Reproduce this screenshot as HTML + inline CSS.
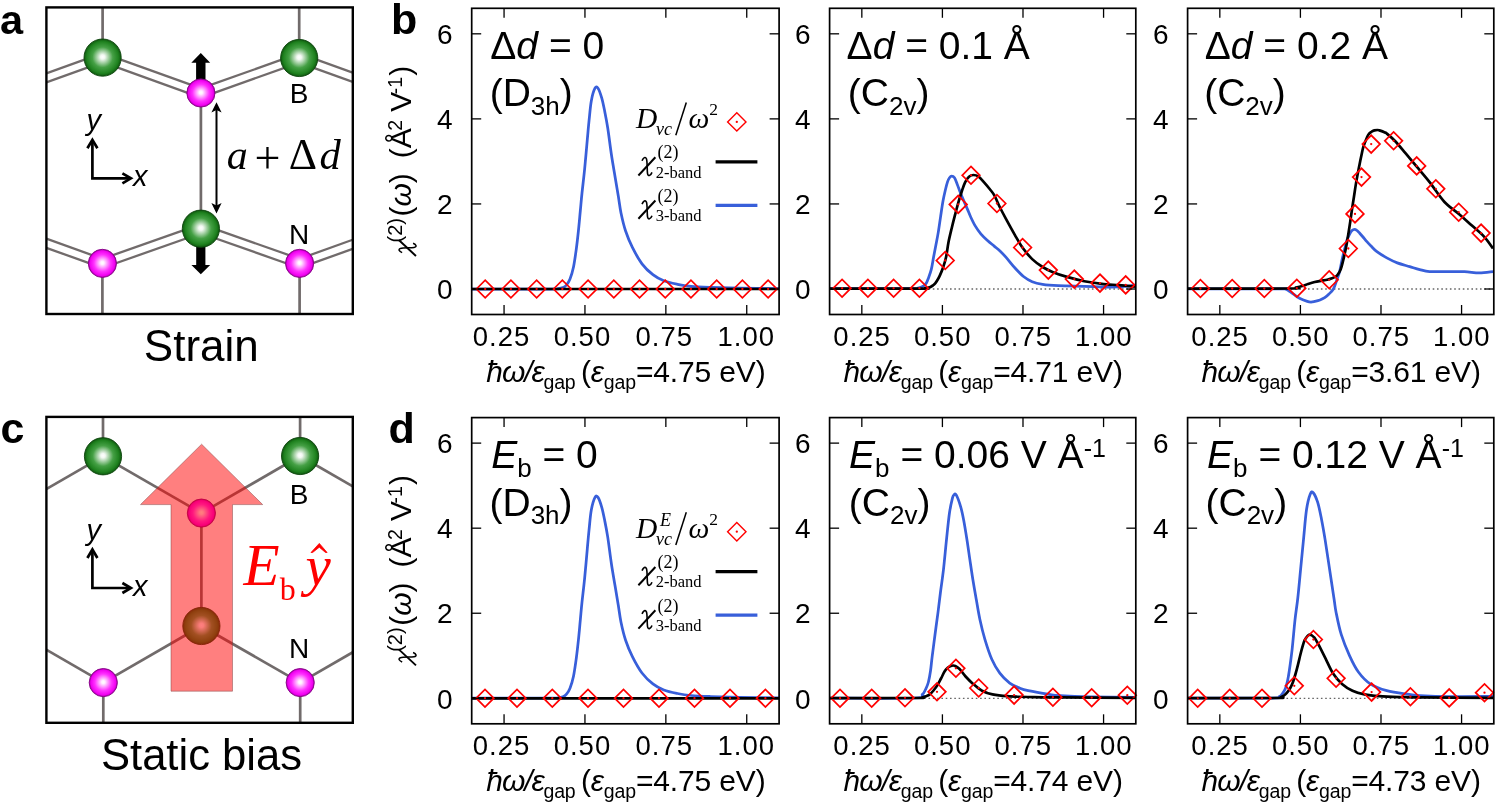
<!DOCTYPE html>
<html><head><meta charset="utf-8"><title>figure</title>
<style>html,body{margin:0;padding:0;background:#fff;overflow:hidden}svg{display:block;filter:blur(0.4px)}text{fill:#000}</style>
</head><body>
<svg width="1497" height="805" viewBox="0 0 1497 805">
<rect width="1497" height="805" fill="#fff"/>
<defs>
<radialGradient id="gG" cx="0.5" cy="0.5" r="0.5" fx="0.5" fy="0.48">
<stop offset="0" stop-color="#ffffff"/><stop offset="0.12" stop-color="#f2f8f2"/><stop offset="0.55" stop-color="#45a045"/><stop offset="0.85" stop-color="#1f821f"/><stop offset="1" stop-color="#0f580f"/></radialGradient>
<radialGradient id="gM" cx="0.5" cy="0.5" r="0.5" fx="0.5" fy="0.48">
<stop offset="0" stop-color="#ffffff"/><stop offset="0.12" stop-color="#fff0ff"/><stop offset="0.6" stop-color="#ff30ff"/><stop offset="0.88" stop-color="#f000f0"/><stop offset="1" stop-color="#a000a0"/></radialGradient>
</defs>
<g>
<clipPath id="clipA"><rect x="46.40" y="7.40" width="306.40" height="306.60"/></clipPath>
<g clip-path="url(#clipA)">
<line x1="102.60" y1="7.40" x2="102.60" y2="57.60" stroke="#716b6b" stroke-width="2.7"/>
<line x1="299.20" y1="7.40" x2="299.20" y2="58.00" stroke="#716b6b" stroke-width="2.7"/>
<line x1="101.14" y1="53.55" x2="31.14" y2="78.76" stroke="#716b6b" stroke-width="2.3"/><line x1="104.06" y1="61.65" x2="34.06" y2="86.85" stroke="#716b6b" stroke-width="2.3"/>
<line x1="101.14" y1="61.65" x2="199.44" y2="97.05" stroke="#716b6b" stroke-width="2.3"/><line x1="104.06" y1="53.55" x2="202.36" y2="88.95" stroke="#716b6b" stroke-width="2.3"/>
<line x1="202.34" y1="97.05" x2="300.64" y2="62.05" stroke="#716b6b" stroke-width="2.3"/><line x1="199.46" y1="88.95" x2="297.76" y2="53.95" stroke="#716b6b" stroke-width="2.3"/>
<line x1="297.74" y1="62.05" x2="367.74" y2="87.25" stroke="#716b6b" stroke-width="2.3"/><line x1="300.66" y1="53.95" x2="370.66" y2="79.16" stroke="#716b6b" stroke-width="2.3"/>
<line x1="200.90" y1="93.00" x2="200.90" y2="228.70" stroke="#716b6b" stroke-width="2.7"/>
<line x1="103.86" y1="259.35" x2="33.86" y2="234.15" stroke="#716b6b" stroke-width="2.3"/><line x1="100.94" y1="267.45" x2="30.94" y2="242.24" stroke="#716b6b" stroke-width="2.3"/>
<line x1="103.83" y1="267.46" x2="202.33" y2="232.76" stroke="#716b6b" stroke-width="2.3"/><line x1="100.97" y1="259.34" x2="199.47" y2="224.64" stroke="#716b6b" stroke-width="2.3"/>
<line x1="199.47" y1="232.76" x2="298.17" y2="267.46" stroke="#716b6b" stroke-width="2.3"/><line x1="202.33" y1="224.64" x2="301.03" y2="259.34" stroke="#716b6b" stroke-width="2.3"/>
<line x1="301.06" y1="267.45" x2="371.06" y2="242.24" stroke="#716b6b" stroke-width="2.3"/><line x1="298.14" y1="259.35" x2="368.14" y2="234.15" stroke="#716b6b" stroke-width="2.3"/>
<line x1="102.40" y1="263.40" x2="102.40" y2="314.00" stroke="#716b6b" stroke-width="2.7"/>
<line x1="299.60" y1="263.40" x2="299.60" y2="314.00" stroke="#716b6b" stroke-width="2.7"/>
</g>
<path d="M196.1,82 L196.1,62.8 L191.3,62.8 L200.8,53 L210.2,62.8 L205.5,62.8 L205.5,82 Z" fill="#000"/>
<path d="M196.2,240 L196.2,265 L191.4,265 L200.8,274.2 L210.2,265 L205.4,265 L205.4,240 Z" fill="#000"/>
<circle cx="102.60" cy="57.60" r="18.6" fill="url(#gG)" stroke="#0c440c" stroke-width="0.9"/>
<circle cx="299.20" cy="58.00" r="18.6" fill="url(#gG)" stroke="#0c440c" stroke-width="0.9"/>
<circle cx="200.90" cy="93.00" r="14.1" fill="url(#gM)" stroke="#880088" stroke-width="0.9"/>
<circle cx="200.90" cy="228.70" r="18.6" fill="url(#gG)" stroke="#0c440c" stroke-width="0.9"/>
<circle cx="102.40" cy="263.40" r="14.1" fill="url(#gM)" stroke="#880088" stroke-width="0.9"/>
<circle cx="299.60" cy="263.40" r="14.1" fill="url(#gM)" stroke="#880088" stroke-width="0.9"/>
<line x1="216.5" y1="106" x2="216.5" y2="209.5" stroke="#000" stroke-width="2"/>
<path d="M216.5,102.2 L221.6,112.5 L216.5,110 L211.4,112.5 Z" fill="#000"/>
<path d="M216.5,213.4 L221.6,203.1 L216.5,205.6 L211.4,203.1 Z" fill="#000"/>
<text x="226.7" y="169.1" style="font-family:'Liberation Serif',serif;font-style:italic;font-size:42px">a</text>
<text x="254.5" y="173.3" style="font-family:'Liberation Serif',serif;font-size:46px">+</text>
<text x="288.7" y="169.1" style="font-family:'Liberation Serif',serif;font-size:44px">&#916;</text>
<text x="319.6" y="169.1" style="font-family:'Liberation Serif',serif;font-style:italic;font-size:42.5px">d</text>
<text x="299" y="103.2" text-anchor="middle" style="font-family:'Liberation Sans',sans-serif;font-size:28px">B</text>
<text x="299" y="243.6" text-anchor="middle" style="font-family:'Liberation Sans',sans-serif;font-size:28px">N</text>
<path d="M92.40,141.30 L92.40,178.30 L129.40,178.30" fill="none" stroke="#000" stroke-width="2.7"/><path d="M87.40,148.30 L92.40,139.80 L97.40,148.30" fill="none" stroke="#000" stroke-width="2.7"/><path d="M122.40,173.30 L130.90,178.30 L122.40,183.30" fill="none" stroke="#000" stroke-width="2.7"/><text x="86.40" y="130.30" style="font-family:'Liberation Sans',sans-serif;font-style:italic;font-size:29px">y</text><text x="132.90" y="185.80" style="font-family:'Liberation Sans',sans-serif;font-style:italic;font-size:29px">x</text>
<rect x="46.40" y="7.40" width="306.40" height="306.60" fill="none" stroke="#000" stroke-width="2.4"/>
<text x="201.3" y="360.7" text-anchor="middle" style="font-family:'Liberation Sans',sans-serif;font-size:44px">Strain</text>
</g>
<g>
<clipPath id="clipC"><rect x="46.40" y="416.90" width="306.40" height="305.90"/></clipPath>
<g clip-path="url(#clipC)">
<line x1="103.00" y1="416.90" x2="103.00" y2="456.30" stroke="#716b6b" stroke-width="2.7"/>
<line x1="300.10" y1="416.90" x2="300.10" y2="456.00" stroke="#716b6b" stroke-width="2.7"/>
<line x1="103.00" y1="456.30" x2="23.00" y2="502.48" stroke="#716b6b" stroke-width="2.7"/>
<line x1="103.00" y1="456.30" x2="201.40" y2="513.10" stroke="#716b6b" stroke-width="2.7"/>
<line x1="201.40" y1="513.10" x2="300.10" y2="456.00" stroke="#716b6b" stroke-width="2.7"/>
<line x1="300.10" y1="456.00" x2="380.10" y2="502.18" stroke="#716b6b" stroke-width="2.7"/>
<line x1="201.40" y1="513.10" x2="201.40" y2="626.00" stroke="#716b6b" stroke-width="2.7"/>
<line x1="103.30" y1="682.60" x2="23.30" y2="636.42" stroke="#716b6b" stroke-width="2.7"/>
<line x1="103.30" y1="682.60" x2="201.40" y2="626.00" stroke="#716b6b" stroke-width="2.7"/>
<line x1="201.40" y1="626.00" x2="300.20" y2="682.60" stroke="#716b6b" stroke-width="2.7"/>
<line x1="300.20" y1="682.60" x2="380.20" y2="636.42" stroke="#716b6b" stroke-width="2.7"/>
<line x1="103.30" y1="682.60" x2="103.30" y2="722.80" stroke="#716b6b" stroke-width="2.7"/>
<line x1="300.20" y1="682.60" x2="300.20" y2="722.80" stroke="#716b6b" stroke-width="2.7"/>
</g>
<circle cx="103.00" cy="456.30" r="18.6" fill="url(#gG)" stroke="#0c440c" stroke-width="0.9"/>
<circle cx="300.10" cy="456.00" r="18.6" fill="url(#gG)" stroke="#0c440c" stroke-width="0.9"/>
<circle cx="201.40" cy="513.10" r="14.1" fill="url(#gM)" stroke="#880088" stroke-width="0.9"/>
<circle cx="201.40" cy="626.00" r="18.6" fill="url(#gG)" stroke="#0c440c" stroke-width="0.9"/>
<circle cx="103.30" cy="682.60" r="14.1" fill="url(#gM)" stroke="#880088" stroke-width="0.9"/>
<circle cx="300.20" cy="682.60" r="14.1" fill="url(#gM)" stroke="#880088" stroke-width="0.9"/>
<path d="M171,691.2 L171,504.6 L140.5,504.6 L201.6,444.2 L262.7,504.6 L232.5,504.6 L232.5,691.2 Z" fill="rgba(255,0,0,0.5)" stroke="rgba(120,60,60,0.45)" stroke-width="1"/>
<text x="243.5" y="584.7" style="font-family:'Liberation Serif',serif;font-style:italic;font-size:59px;fill:#f00">E</text>
<text x="279.7" y="599.6" style="font-family:'Liberation Serif',serif;font-size:32px;fill:#f00">b</text>
<text x="305.4" y="584.7" style="font-family:'Liberation Serif',serif;font-style:italic;font-size:57px;fill:#f00">y</text>
<path d="M311,552.5 L319.3,543.4 L327.1,552.5 L325.5,552.5 L319.3,547.2 L312.6,552.5 Z" fill="#f00" stroke="#f00" stroke-width="0.8" stroke-linejoin="round"/>
<text x="299" y="504" text-anchor="middle" style="font-family:'Liberation Sans',sans-serif;font-size:28px">B</text>
<text x="299" y="657.6" text-anchor="middle" style="font-family:'Liberation Sans',sans-serif;font-size:28px">N</text>
<path d="M92.40,551.00 L92.40,588.00 L129.40,588.00" fill="none" stroke="#000" stroke-width="2.7"/><path d="M87.40,558.00 L92.40,549.50 L97.40,558.00" fill="none" stroke="#000" stroke-width="2.7"/><path d="M122.40,583.00 L130.90,588.00 L122.40,593.00" fill="none" stroke="#000" stroke-width="2.7"/><text x="86.40" y="540.00" style="font-family:'Liberation Sans',sans-serif;font-style:italic;font-size:29px">y</text><text x="132.90" y="595.50" style="font-family:'Liberation Sans',sans-serif;font-style:italic;font-size:29px">x</text>
<rect x="46.40" y="416.90" width="306.40" height="305.90" fill="none" stroke="#000" stroke-width="2.4"/>
<text x="201.5" y="769.8" text-anchor="middle" style="font-family:'Liberation Sans',sans-serif;font-size:43.6px">Static bias</text>
</g>
<g>
<defs><clipPath id="cp00"><rect x="471.70" y="8.30" width="307.40" height="306.20"/></clipPath></defs>
<g clip-path="url(#cp00)">
<line x1="471.70" y1="289.00" x2="779.10" y2="289.00" stroke="#666" stroke-width="1.3" stroke-dasharray="1.6,2.7"/>
<path d="M472.00,289.00 C485.00,289.00 535.67,289.07 550.00,289.00 C564.33,288.93 555.83,288.85 558.00,288.60 C560.17,288.35 561.58,288.10 563.00,287.50 C564.42,286.90 565.33,286.42 566.50,285.00 C567.67,283.58 568.83,282.00 570.00,279.00 C571.17,276.00 572.45,272.00 573.50,267.00 C574.55,262.00 575.48,255.00 576.30,249.00 C577.12,243.00 577.73,237.33 578.40,231.00 C579.07,224.67 579.70,217.33 580.30,211.00 C580.90,204.67 581.28,199.93 582.00,193.00 C582.72,186.07 583.72,178.30 584.60,169.40 C585.48,160.50 586.55,147.80 587.30,139.60 C588.05,131.40 588.43,126.65 589.10,120.20 C589.77,113.75 590.32,106.23 591.30,100.90 C592.28,95.57 593.88,90.32 595.00,88.20 C596.12,86.08 596.88,86.58 598.00,88.20 C599.12,89.82 600.58,94.05 601.70,97.90 C602.82,101.75 603.70,106.33 604.70,111.30 C605.70,116.27 606.58,120.50 607.70,127.70 C608.82,134.90 610.17,146.30 611.40,154.50 C612.63,162.70 613.95,169.98 615.10,176.90 C616.25,183.82 617.32,189.98 618.30,196.00 C619.28,202.02 619.78,207.17 621.00,213.00 C622.22,218.83 623.70,225.27 625.60,231.00 C627.50,236.73 629.67,241.93 632.40,247.40 C635.13,252.87 638.58,259.25 642.00,263.80 C645.42,268.35 649.27,271.87 652.90,274.70 C656.53,277.53 659.70,279.20 663.80,280.80 C667.90,282.40 672.95,283.38 677.50,284.30 C682.05,285.22 685.63,285.80 691.10,286.30 C696.57,286.80 702.15,287.00 710.30,287.30 C718.45,287.60 728.55,287.88 740.00,288.10 C751.45,288.32 772.50,288.52 779.00,288.60" fill="none" stroke="#385fda" stroke-width="2.75" stroke-linejoin="round"/>
<line x1="471.70" y1="289.00" x2="779.10" y2="289.00" stroke="#000" stroke-width="2.7"/>
</g>
<path d="M476.40,289.00 L485.20,280.20 L494.00,289.00 L485.20,297.80 Z" fill="none" stroke="#ff0000" stroke-width="1.75" stroke-linejoin="miter"/><circle cx="485.20" cy="289.00" r="1.15" fill="#ff0000"/>
<path d="M502.12,289.00 L510.92,280.20 L519.72,289.00 L510.92,297.80 Z" fill="none" stroke="#ff0000" stroke-width="1.75" stroke-linejoin="miter"/><circle cx="510.92" cy="289.00" r="1.15" fill="#ff0000"/>
<path d="M527.84,289.00 L536.64,280.20 L545.44,289.00 L536.64,297.80 Z" fill="none" stroke="#ff0000" stroke-width="1.75" stroke-linejoin="miter"/><circle cx="536.64" cy="289.00" r="1.15" fill="#ff0000"/>
<path d="M553.56,289.00 L562.36,280.20 L571.16,289.00 L562.36,297.80 Z" fill="none" stroke="#ff0000" stroke-width="1.75" stroke-linejoin="miter"/><circle cx="562.36" cy="289.00" r="1.15" fill="#ff0000"/>
<path d="M579.28,289.00 L588.08,280.20 L596.88,289.00 L588.08,297.80 Z" fill="none" stroke="#ff0000" stroke-width="1.75" stroke-linejoin="miter"/><circle cx="588.08" cy="289.00" r="1.15" fill="#ff0000"/>
<path d="M605.00,289.00 L613.80,280.20 L622.60,289.00 L613.80,297.80 Z" fill="none" stroke="#ff0000" stroke-width="1.75" stroke-linejoin="miter"/><circle cx="613.80" cy="289.00" r="1.15" fill="#ff0000"/>
<path d="M630.72,289.00 L639.52,280.20 L648.32,289.00 L639.52,297.80 Z" fill="none" stroke="#ff0000" stroke-width="1.75" stroke-linejoin="miter"/><circle cx="639.52" cy="289.00" r="1.15" fill="#ff0000"/>
<path d="M656.44,289.00 L665.24,280.20 L674.04,289.00 L665.24,297.80 Z" fill="none" stroke="#ff0000" stroke-width="1.75" stroke-linejoin="miter"/><circle cx="665.24" cy="289.00" r="1.15" fill="#ff0000"/>
<path d="M682.16,289.00 L690.96,280.20 L699.76,289.00 L690.96,297.80 Z" fill="none" stroke="#ff0000" stroke-width="1.75" stroke-linejoin="miter"/><circle cx="690.96" cy="289.00" r="1.15" fill="#ff0000"/>
<path d="M707.88,289.00 L716.68,280.20 L725.48,289.00 L716.68,297.80 Z" fill="none" stroke="#ff0000" stroke-width="1.75" stroke-linejoin="miter"/><circle cx="716.68" cy="289.00" r="1.15" fill="#ff0000"/>
<path d="M733.60,289.00 L742.40,280.20 L751.20,289.00 L742.40,297.80 Z" fill="none" stroke="#ff0000" stroke-width="1.75" stroke-linejoin="miter"/><circle cx="742.40" cy="289.00" r="1.15" fill="#ff0000"/>
<path d="M759.32,289.00 L768.12,280.20 L776.92,289.00 L768.12,297.80 Z" fill="none" stroke="#ff0000" stroke-width="1.75" stroke-linejoin="miter"/><circle cx="768.12" cy="289.00" r="1.15" fill="#ff0000"/>
<line x1="504.06" y1="314.50" x2="504.06" y2="305.00" stroke="#000" stroke-width="1.3"/>
<line x1="504.06" y1="8.30" x2="504.06" y2="17.80" stroke="#000" stroke-width="1.3"/>
<text x="501.56" y="345.50" text-anchor="middle" style="font-family:'Liberation Sans',sans-serif;font-size:27.5px;letter-spacing:1px">0.25</text>
<line x1="584.95" y1="314.50" x2="584.95" y2="305.00" stroke="#000" stroke-width="1.3"/>
<line x1="584.95" y1="8.30" x2="584.95" y2="17.80" stroke="#000" stroke-width="1.3"/>
<text x="582.45" y="345.50" text-anchor="middle" style="font-family:'Liberation Sans',sans-serif;font-size:27.5px;letter-spacing:1px">0.50</text>
<line x1="665.85" y1="314.50" x2="665.85" y2="305.00" stroke="#000" stroke-width="1.3"/>
<line x1="665.85" y1="8.30" x2="665.85" y2="17.80" stroke="#000" stroke-width="1.3"/>
<text x="664.35" y="345.50" text-anchor="middle" style="font-family:'Liberation Sans',sans-serif;font-size:27.5px;letter-spacing:1px">0.75</text>
<line x1="746.74" y1="314.50" x2="746.74" y2="305.00" stroke="#000" stroke-width="1.3"/>
<line x1="746.74" y1="8.30" x2="746.74" y2="17.80" stroke="#000" stroke-width="1.3"/>
<text x="746.24" y="345.50" text-anchor="middle" style="font-family:'Liberation Sans',sans-serif;font-size:27.5px;letter-spacing:1px">1.00</text>
<line x1="471.70" y1="289.00" x2="481.20" y2="289.00" stroke="#000" stroke-width="1.3"/>
<line x1="779.10" y1="289.00" x2="769.60" y2="289.00" stroke="#000" stroke-width="1.3"/>
<text x="452.60" y="299.20" text-anchor="end" style="font-family:'Liberation Sans',sans-serif;font-size:28px">0</text>
<line x1="471.70" y1="203.94" x2="481.20" y2="203.94" stroke="#000" stroke-width="1.3"/>
<line x1="779.10" y1="203.94" x2="769.60" y2="203.94" stroke="#000" stroke-width="1.3"/>
<text x="452.60" y="214.14" text-anchor="end" style="font-family:'Liberation Sans',sans-serif;font-size:28px">2</text>
<line x1="471.70" y1="118.88" x2="481.20" y2="118.88" stroke="#000" stroke-width="1.3"/>
<line x1="779.10" y1="118.88" x2="769.60" y2="118.88" stroke="#000" stroke-width="1.3"/>
<text x="452.60" y="129.08" text-anchor="end" style="font-family:'Liberation Sans',sans-serif;font-size:28px">4</text>
<line x1="471.70" y1="33.82" x2="481.20" y2="33.82" stroke="#000" stroke-width="1.3"/>
<line x1="779.10" y1="33.82" x2="769.60" y2="33.82" stroke="#000" stroke-width="1.3"/>
<text x="452.60" y="44.02" text-anchor="end" style="font-family:'Liberation Sans',sans-serif;font-size:28px">6</text>
<rect x="471.70" y="8.30" width="307.40" height="306.20" fill="none" stroke="#000" stroke-width="1.7"/>
</g>
<g>
<defs><clipPath id="cp01"><rect x="829.60" y="8.30" width="306.20" height="306.20"/></clipPath></defs>
<g clip-path="url(#cp01)">
<line x1="829.60" y1="289.00" x2="1135.80" y2="289.00" stroke="#666" stroke-width="1.3" stroke-dasharray="1.6,2.7"/>
<path d="M830.00,288.60 C843.67,288.58 897.33,288.60 912.00,288.50 C926.67,288.40 916.42,288.25 918.00,288.00 C919.58,287.75 920.45,287.42 921.50,287.00 C922.55,286.58 923.47,286.20 924.30,285.50 C925.13,284.80 925.85,283.93 926.50,282.80 C927.15,281.67 927.40,280.93 928.20,278.70 C929.00,276.47 930.40,273.02 931.30,269.40 C932.20,265.78 932.82,261.15 933.60,257.00 C934.38,252.85 935.22,248.65 936.00,244.50 C936.78,240.35 937.53,236.75 938.30,232.10 C939.07,227.45 939.82,221.77 940.60,216.60 C941.38,211.43 942.22,205.50 943.00,201.10 C943.78,196.70 944.53,193.45 945.30,190.20 C946.07,186.95 946.90,183.67 947.60,181.60 C948.30,179.53 948.83,178.70 949.50,177.80 C950.17,176.90 950.77,176.20 951.60,176.20 C952.43,176.20 953.55,176.42 954.50,177.80 C955.45,179.18 956.27,181.88 957.30,184.50 C958.33,187.12 959.58,190.70 960.70,193.50 C961.82,196.30 962.88,198.70 964.00,201.30 C965.12,203.90 966.28,206.48 967.40,209.10 C968.52,211.72 969.40,214.20 970.70,217.00 C972.00,219.80 973.52,223.10 975.20,225.90 C976.88,228.70 978.75,231.37 980.80,233.80 C982.85,236.23 985.27,238.45 987.50,240.50 C989.73,242.55 992.12,244.35 994.20,246.10 C996.28,247.85 998.02,249.12 1000.00,251.00 C1001.98,252.88 1003.63,254.60 1006.10,257.40 C1008.57,260.20 1011.90,264.62 1014.80,267.80 C1017.70,270.98 1020.60,274.18 1023.50,276.50 C1026.40,278.82 1029.02,280.40 1032.20,281.70 C1035.38,283.00 1038.25,283.65 1042.60,284.30 C1046.95,284.95 1051.35,285.27 1058.30,285.60 C1065.25,285.93 1075.62,286.07 1084.30,286.30 C1092.98,286.53 1103.62,286.97 1110.40,287.00 C1117.18,287.03 1120.90,286.80 1125.00,286.50 C1129.10,286.20 1133.33,285.42 1135.00,285.20" fill="none" stroke="#385fda" stroke-width="2.75" stroke-linejoin="round"/>
<path d="M830.00,288.60 C845.00,288.60 904.17,288.65 920.00,288.60 C935.83,288.55 923.67,288.43 925.00,288.30 C926.33,288.17 927.08,288.02 928.00,287.80 C928.92,287.58 929.67,287.40 930.50,287.00 C931.33,286.60 932.22,286.00 933.00,285.40 C933.78,284.80 934.43,284.33 935.20,283.40 C935.97,282.47 936.83,281.10 937.60,279.80 C938.37,278.50 938.90,277.60 939.80,275.60 C940.70,273.60 941.95,270.90 943.00,267.80 C944.05,264.70 945.20,261.18 946.10,257.00 C947.00,252.82 947.47,247.50 948.40,242.70 C949.33,237.90 950.58,232.87 951.70,228.20 C952.82,223.53 953.98,219.00 955.10,214.70 C956.22,210.40 957.28,206.30 958.40,202.40 C959.52,198.50 960.68,194.65 961.80,191.30 C962.92,187.95 963.90,184.73 965.10,182.30 C966.30,179.87 967.60,177.92 969.00,176.70 C970.40,175.48 971.90,175.00 973.50,175.00 C975.10,175.00 976.83,175.48 978.60,176.70 C980.37,177.92 982.25,180.25 984.10,182.30 C985.95,184.35 988.02,186.85 989.70,189.00 C991.38,191.15 992.48,192.12 994.20,195.20 C995.92,198.28 998.02,203.52 1000.00,207.50 C1001.98,211.48 1003.63,214.55 1006.10,219.10 C1008.57,223.65 1012.05,230.02 1014.80,234.80 C1017.55,239.58 1019.70,243.75 1022.60,247.80 C1025.50,251.85 1028.87,255.90 1032.20,259.10 C1035.53,262.30 1039.13,264.82 1042.60,267.00 C1046.07,269.18 1048.93,270.55 1053.00,272.20 C1057.07,273.85 1061.78,275.40 1067.00,276.90 C1072.22,278.40 1078.52,280.05 1084.30,281.20 C1090.08,282.35 1095.90,283.13 1101.70,283.80 C1107.50,284.47 1113.55,284.73 1119.10,285.20 C1124.65,285.67 1132.35,286.37 1135.00,286.60" fill="none" stroke="#000" stroke-width="2.7" stroke-linejoin="round"/>
</g>
<path d="M833.30,288.20 L842.10,279.40 L850.90,288.20 L842.10,297.00 Z" fill="none" stroke="#ff0000" stroke-width="1.75" stroke-linejoin="miter"/><circle cx="842.10" cy="288.20" r="1.15" fill="#ff0000"/>
<path d="M859.10,288.20 L867.90,279.40 L876.70,288.20 L867.90,297.00 Z" fill="none" stroke="#ff0000" stroke-width="1.75" stroke-linejoin="miter"/><circle cx="867.90" cy="288.20" r="1.15" fill="#ff0000"/>
<path d="M884.80,288.20 L893.60,279.40 L902.40,288.20 L893.60,297.00 Z" fill="none" stroke="#ff0000" stroke-width="1.75" stroke-linejoin="miter"/><circle cx="893.60" cy="288.20" r="1.15" fill="#ff0000"/>
<path d="M910.60,288.20 L919.40,279.40 L928.20,288.20 L919.40,297.00 Z" fill="none" stroke="#ff0000" stroke-width="1.75" stroke-linejoin="miter"/><circle cx="919.40" cy="288.20" r="1.15" fill="#ff0000"/>
<path d="M936.40,260.50 L945.20,251.70 L954.00,260.50 L945.20,269.30 Z" fill="none" stroke="#ff0000" stroke-width="1.75" stroke-linejoin="miter"/><circle cx="945.20" cy="260.50" r="1.15" fill="#ff0000"/>
<path d="M949.40,204.40 L958.20,195.60 L967.00,204.40 L958.20,213.20 Z" fill="none" stroke="#ff0000" stroke-width="1.75" stroke-linejoin="miter"/><circle cx="958.20" cy="204.40" r="1.15" fill="#ff0000"/>
<path d="M962.20,175.30 L971.00,166.50 L979.80,175.30 L971.00,184.10 Z" fill="none" stroke="#ff0000" stroke-width="1.75" stroke-linejoin="miter"/><circle cx="971.00" cy="175.30" r="1.15" fill="#ff0000"/>
<path d="M988.10,203.50 L996.90,194.70 L1005.70,203.50 L996.90,212.30 Z" fill="none" stroke="#ff0000" stroke-width="1.75" stroke-linejoin="miter"/><circle cx="996.90" cy="203.50" r="1.15" fill="#ff0000"/>
<path d="M1013.80,247.50 L1022.60,238.70 L1031.40,247.50 L1022.60,256.30 Z" fill="none" stroke="#ff0000" stroke-width="1.75" stroke-linejoin="miter"/><circle cx="1022.60" cy="247.50" r="1.15" fill="#ff0000"/>
<path d="M1039.50,270.10 L1048.30,261.30 L1057.10,270.10 L1048.30,278.90 Z" fill="none" stroke="#ff0000" stroke-width="1.75" stroke-linejoin="miter"/><circle cx="1048.30" cy="270.10" r="1.15" fill="#ff0000"/>
<path d="M1065.50,279.10 L1074.30,270.30 L1083.10,279.10 L1074.30,287.90 Z" fill="none" stroke="#ff0000" stroke-width="1.75" stroke-linejoin="miter"/><circle cx="1074.30" cy="279.10" r="1.15" fill="#ff0000"/>
<path d="M1091.20,283.10 L1100.00,274.30 L1108.80,283.10 L1100.00,291.90 Z" fill="none" stroke="#ff0000" stroke-width="1.75" stroke-linejoin="miter"/><circle cx="1100.00" cy="283.10" r="1.15" fill="#ff0000"/>
<path d="M1116.90,284.90 L1125.70,276.10 L1134.50,284.90 L1125.70,293.70 Z" fill="none" stroke="#ff0000" stroke-width="1.75" stroke-linejoin="miter"/><circle cx="1125.70" cy="284.90" r="1.15" fill="#ff0000"/>
<line x1="861.83" y1="314.50" x2="861.83" y2="305.00" stroke="#000" stroke-width="1.3"/>
<line x1="861.83" y1="8.30" x2="861.83" y2="17.80" stroke="#000" stroke-width="1.3"/>
<text x="862.13" y="345.50" text-anchor="middle" style="font-family:'Liberation Sans',sans-serif;font-size:27.5px;letter-spacing:1px">0.25</text>
<line x1="942.41" y1="314.50" x2="942.41" y2="305.00" stroke="#000" stroke-width="1.3"/>
<line x1="942.41" y1="8.30" x2="942.41" y2="17.80" stroke="#000" stroke-width="1.3"/>
<text x="942.71" y="345.50" text-anchor="middle" style="font-family:'Liberation Sans',sans-serif;font-size:27.5px;letter-spacing:1px">0.50</text>
<line x1="1022.99" y1="314.50" x2="1022.99" y2="305.00" stroke="#000" stroke-width="1.3"/>
<line x1="1022.99" y1="8.30" x2="1022.99" y2="17.80" stroke="#000" stroke-width="1.3"/>
<text x="1023.29" y="345.50" text-anchor="middle" style="font-family:'Liberation Sans',sans-serif;font-size:27.5px;letter-spacing:1px">0.75</text>
<line x1="1103.57" y1="314.50" x2="1103.57" y2="305.00" stroke="#000" stroke-width="1.3"/>
<line x1="1103.57" y1="8.30" x2="1103.57" y2="17.80" stroke="#000" stroke-width="1.3"/>
<text x="1103.87" y="345.50" text-anchor="middle" style="font-family:'Liberation Sans',sans-serif;font-size:27.5px;letter-spacing:1px">1.00</text>
<line x1="829.60" y1="289.00" x2="839.10" y2="289.00" stroke="#000" stroke-width="1.3"/>
<line x1="1135.80" y1="289.00" x2="1126.30" y2="289.00" stroke="#000" stroke-width="1.3"/>
<text x="810.50" y="299.20" text-anchor="end" style="font-family:'Liberation Sans',sans-serif;font-size:28px">0</text>
<line x1="829.60" y1="203.94" x2="839.10" y2="203.94" stroke="#000" stroke-width="1.3"/>
<line x1="1135.80" y1="203.94" x2="1126.30" y2="203.94" stroke="#000" stroke-width="1.3"/>
<text x="810.50" y="214.14" text-anchor="end" style="font-family:'Liberation Sans',sans-serif;font-size:28px">2</text>
<line x1="829.60" y1="118.88" x2="839.10" y2="118.88" stroke="#000" stroke-width="1.3"/>
<line x1="1135.80" y1="118.88" x2="1126.30" y2="118.88" stroke="#000" stroke-width="1.3"/>
<text x="810.50" y="129.08" text-anchor="end" style="font-family:'Liberation Sans',sans-serif;font-size:28px">4</text>
<line x1="829.60" y1="33.82" x2="839.10" y2="33.82" stroke="#000" stroke-width="1.3"/>
<line x1="1135.80" y1="33.82" x2="1126.30" y2="33.82" stroke="#000" stroke-width="1.3"/>
<text x="810.50" y="44.02" text-anchor="end" style="font-family:'Liberation Sans',sans-serif;font-size:28px">6</text>
<rect x="829.60" y="8.30" width="306.20" height="306.20" fill="none" stroke="#000" stroke-width="1.7"/>
</g>
<g>
<defs><clipPath id="cp02"><rect x="1187.60" y="8.30" width="306.20" height="306.20"/></clipPath></defs>
<g clip-path="url(#cp02)">
<line x1="1187.60" y1="289.00" x2="1493.80" y2="289.00" stroke="#666" stroke-width="1.3" stroke-dasharray="1.6,2.7"/>
<path d="M1188.00,288.80 C1203.33,288.80 1263.85,288.77 1280.00,288.80 C1296.15,288.83 1283.40,288.63 1284.90,289.00 C1286.40,289.37 1287.33,289.97 1289.00,291.00 C1290.67,292.03 1293.07,293.95 1294.90,295.20 C1296.73,296.45 1297.93,297.47 1300.00,298.50 C1302.07,299.53 1305.47,300.82 1307.30,301.40 C1309.13,301.98 1309.77,302.00 1311.00,302.00 C1312.23,302.00 1313.20,301.73 1314.70,301.40 C1316.20,301.07 1318.33,300.62 1320.00,300.00 C1321.67,299.38 1323.20,298.70 1324.70,297.70 C1326.20,296.70 1327.55,295.45 1329.00,294.00 C1330.45,292.55 1332.15,291.17 1333.40,289.00 C1334.65,286.83 1335.47,283.90 1336.50,281.00 C1337.53,278.10 1338.68,275.10 1339.60,271.60 C1340.52,268.10 1341.17,263.73 1342.00,260.00 C1342.83,256.27 1343.77,252.53 1344.60,249.20 C1345.43,245.87 1346.18,242.48 1347.00,240.00 C1347.82,237.52 1348.67,235.88 1349.50,234.30 C1350.33,232.72 1351.17,231.33 1352.00,230.50 C1352.83,229.67 1353.67,229.30 1354.50,229.30 C1355.33,229.30 1356.17,229.88 1357.00,230.50 C1357.83,231.12 1358.50,231.92 1359.50,233.00 C1360.50,234.08 1361.77,235.55 1363.00,237.00 C1364.23,238.45 1365.57,240.20 1366.90,241.70 C1368.23,243.20 1369.33,244.33 1371.00,246.00 C1372.67,247.67 1374.27,249.72 1376.90,251.70 C1379.53,253.68 1383.40,256.03 1386.80,257.90 C1390.20,259.77 1393.48,261.45 1397.30,262.90 C1401.12,264.35 1405.97,265.48 1409.70,266.60 C1413.43,267.72 1416.38,268.77 1419.70,269.60 C1423.02,270.43 1425.05,271.27 1429.60,271.60 C1434.15,271.93 1441.20,271.60 1447.00,271.60 C1452.80,271.60 1459.02,271.38 1464.40,271.60 C1469.78,271.82 1474.53,272.90 1479.30,272.90 C1484.07,272.90 1490.72,271.82 1493.00,271.60" fill="none" stroke="#385fda" stroke-width="2.75" stroke-linejoin="round"/>
<path d="M1188.00,288.60 C1204.98,288.58 1271.90,288.68 1289.90,288.50 C1307.90,288.32 1293.93,287.92 1296.00,287.50 C1298.07,287.08 1300.30,286.58 1302.30,286.00 C1304.30,285.42 1305.93,284.67 1308.00,284.00 C1310.07,283.33 1312.53,282.53 1314.70,282.00 C1316.87,281.47 1318.92,281.17 1321.00,280.80 C1323.08,280.43 1325.37,280.22 1327.20,279.80 C1329.03,279.38 1330.55,278.85 1332.00,278.30 C1333.45,277.75 1334.82,277.30 1335.90,276.50 C1336.98,275.70 1337.68,274.73 1338.50,273.50 C1339.32,272.27 1340.08,271.02 1340.80,269.10 C1341.52,267.18 1342.17,264.48 1342.80,262.00 C1343.43,259.52 1343.98,257.03 1344.60,254.20 C1345.22,251.37 1345.88,248.32 1346.50,245.00 C1347.12,241.68 1347.68,238.13 1348.30,234.30 C1348.92,230.47 1349.58,226.15 1350.20,222.00 C1350.82,217.85 1351.37,213.65 1352.00,209.40 C1352.63,205.15 1353.37,200.63 1354.00,196.50 C1354.63,192.37 1355.18,188.35 1355.80,184.60 C1356.42,180.85 1357.08,177.32 1357.70,174.00 C1358.32,170.68 1358.87,167.87 1359.50,164.70 C1360.13,161.53 1360.88,157.90 1361.50,155.00 C1362.12,152.10 1362.53,149.63 1363.20,147.30 C1363.87,144.97 1364.67,143.07 1365.50,141.00 C1366.33,138.93 1367.25,136.40 1368.20,134.90 C1369.15,133.40 1370.17,132.75 1371.20,132.00 C1372.23,131.25 1373.37,130.73 1374.40,130.40 C1375.43,130.07 1376.57,130.00 1377.40,130.00 C1378.23,130.00 1378.15,130.00 1379.40,130.40 C1380.65,130.80 1383.67,131.87 1384.90,132.40 C1386.13,132.93 1385.20,132.25 1386.80,133.60 C1388.40,134.95 1391.50,137.38 1394.50,140.50 C1397.50,143.62 1401.02,147.85 1404.80,152.30 C1408.58,156.75 1413.07,162.23 1417.20,167.20 C1421.33,172.17 1425.05,176.30 1429.60,182.10 C1434.15,187.90 1439.52,196.62 1444.50,202.00 C1449.48,207.38 1454.93,210.47 1459.50,214.40 C1464.07,218.33 1467.77,221.87 1471.90,225.60 C1476.03,229.33 1480.78,232.98 1484.30,236.80 C1487.82,240.62 1491.55,246.55 1493.00,248.50" fill="none" stroke="#000" stroke-width="2.7" stroke-linejoin="round"/>
</g>
<path d="M1191.60,288.50 L1200.40,279.70 L1209.20,288.50 L1200.40,297.30 Z" fill="none" stroke="#ff0000" stroke-width="1.75" stroke-linejoin="miter"/><circle cx="1200.40" cy="288.50" r="1.15" fill="#ff0000"/>
<path d="M1223.40,288.50 L1232.20,279.70 L1241.00,288.50 L1232.20,297.30 Z" fill="none" stroke="#ff0000" stroke-width="1.75" stroke-linejoin="miter"/><circle cx="1232.20" cy="288.50" r="1.15" fill="#ff0000"/>
<path d="M1255.50,288.50 L1264.30,279.70 L1273.10,288.50 L1264.30,297.30 Z" fill="none" stroke="#ff0000" stroke-width="1.75" stroke-linejoin="miter"/><circle cx="1264.30" cy="288.50" r="1.15" fill="#ff0000"/>
<path d="M1288.00,288.20 L1296.80,279.40 L1305.60,288.20 L1296.80,297.00 Z" fill="none" stroke="#ff0000" stroke-width="1.75" stroke-linejoin="miter"/><circle cx="1296.80" cy="288.20" r="1.15" fill="#ff0000"/>
<path d="M1320.40,279.80 L1329.20,271.00 L1338.00,279.80 L1329.20,288.60 Z" fill="none" stroke="#ff0000" stroke-width="1.75" stroke-linejoin="miter"/><circle cx="1329.20" cy="279.80" r="1.15" fill="#ff0000"/>
<path d="M1339.50,248.50 L1348.30,239.70 L1357.10,248.50 L1348.30,257.30 Z" fill="none" stroke="#ff0000" stroke-width="1.75" stroke-linejoin="miter"/><circle cx="1348.30" cy="248.50" r="1.15" fill="#ff0000"/>
<path d="M1346.20,213.90 L1355.00,205.10 L1363.80,213.90 L1355.00,222.70 Z" fill="none" stroke="#ff0000" stroke-width="1.75" stroke-linejoin="miter"/><circle cx="1355.00" cy="213.90" r="1.15" fill="#ff0000"/>
<path d="M1352.70,177.10 L1361.50,168.30 L1370.30,177.10 L1361.50,185.90 Z" fill="none" stroke="#ff0000" stroke-width="1.75" stroke-linejoin="miter"/><circle cx="1361.50" cy="177.10" r="1.15" fill="#ff0000"/>
<path d="M1362.40,144.10 L1371.20,135.30 L1380.00,144.10 L1371.20,152.90 Z" fill="none" stroke="#ff0000" stroke-width="1.75" stroke-linejoin="miter"/><circle cx="1371.20" cy="144.10" r="1.15" fill="#ff0000"/>
<path d="M1384.80,140.80 L1393.60,132.00 L1402.40,140.80 L1393.60,149.60 Z" fill="none" stroke="#ff0000" stroke-width="1.75" stroke-linejoin="miter"/><circle cx="1393.60" cy="140.80" r="1.15" fill="#ff0000"/>
<path d="M1407.90,165.90 L1416.70,157.10 L1425.50,165.90 L1416.70,174.70 Z" fill="none" stroke="#ff0000" stroke-width="1.75" stroke-linejoin="miter"/><circle cx="1416.70" cy="165.90" r="1.15" fill="#ff0000"/>
<path d="M1427.00,188.80 L1435.80,180.00 L1444.60,188.80 L1435.80,197.60 Z" fill="none" stroke="#ff0000" stroke-width="1.75" stroke-linejoin="miter"/><circle cx="1435.80" cy="188.80" r="1.15" fill="#ff0000"/>
<path d="M1449.90,212.20 L1458.70,203.40 L1467.50,212.20 L1458.70,221.00 Z" fill="none" stroke="#ff0000" stroke-width="1.75" stroke-linejoin="miter"/><circle cx="1458.70" cy="212.20" r="1.15" fill="#ff0000"/>
<path d="M1472.30,233.10 L1481.10,224.30 L1489.90,233.10 L1481.10,241.90 Z" fill="none" stroke="#ff0000" stroke-width="1.75" stroke-linejoin="miter"/><circle cx="1481.10" cy="233.10" r="1.15" fill="#ff0000"/>
<line x1="1219.83" y1="314.50" x2="1219.83" y2="305.00" stroke="#000" stroke-width="1.3"/>
<line x1="1219.83" y1="8.30" x2="1219.83" y2="17.80" stroke="#000" stroke-width="1.3"/>
<text x="1220.13" y="345.50" text-anchor="middle" style="font-family:'Liberation Sans',sans-serif;font-size:27.5px;letter-spacing:1px">0.25</text>
<line x1="1300.41" y1="314.50" x2="1300.41" y2="305.00" stroke="#000" stroke-width="1.3"/>
<line x1="1300.41" y1="8.30" x2="1300.41" y2="17.80" stroke="#000" stroke-width="1.3"/>
<text x="1300.71" y="345.50" text-anchor="middle" style="font-family:'Liberation Sans',sans-serif;font-size:27.5px;letter-spacing:1px">0.50</text>
<line x1="1380.99" y1="314.50" x2="1380.99" y2="305.00" stroke="#000" stroke-width="1.3"/>
<line x1="1380.99" y1="8.30" x2="1380.99" y2="17.80" stroke="#000" stroke-width="1.3"/>
<text x="1381.29" y="345.50" text-anchor="middle" style="font-family:'Liberation Sans',sans-serif;font-size:27.5px;letter-spacing:1px">0.75</text>
<line x1="1461.57" y1="314.50" x2="1461.57" y2="305.00" stroke="#000" stroke-width="1.3"/>
<line x1="1461.57" y1="8.30" x2="1461.57" y2="17.80" stroke="#000" stroke-width="1.3"/>
<text x="1461.87" y="345.50" text-anchor="middle" style="font-family:'Liberation Sans',sans-serif;font-size:27.5px;letter-spacing:1px">1.00</text>
<line x1="1187.60" y1="289.00" x2="1197.10" y2="289.00" stroke="#000" stroke-width="1.3"/>
<line x1="1493.80" y1="289.00" x2="1484.30" y2="289.00" stroke="#000" stroke-width="1.3"/>
<text x="1168.50" y="299.20" text-anchor="end" style="font-family:'Liberation Sans',sans-serif;font-size:28px">0</text>
<line x1="1187.60" y1="203.94" x2="1197.10" y2="203.94" stroke="#000" stroke-width="1.3"/>
<line x1="1493.80" y1="203.94" x2="1484.30" y2="203.94" stroke="#000" stroke-width="1.3"/>
<text x="1168.50" y="214.14" text-anchor="end" style="font-family:'Liberation Sans',sans-serif;font-size:28px">2</text>
<line x1="1187.60" y1="118.88" x2="1197.10" y2="118.88" stroke="#000" stroke-width="1.3"/>
<line x1="1493.80" y1="118.88" x2="1484.30" y2="118.88" stroke="#000" stroke-width="1.3"/>
<text x="1168.50" y="129.08" text-anchor="end" style="font-family:'Liberation Sans',sans-serif;font-size:28px">4</text>
<line x1="1187.60" y1="33.82" x2="1197.10" y2="33.82" stroke="#000" stroke-width="1.3"/>
<line x1="1493.80" y1="33.82" x2="1484.30" y2="33.82" stroke="#000" stroke-width="1.3"/>
<text x="1168.50" y="44.02" text-anchor="end" style="font-family:'Liberation Sans',sans-serif;font-size:28px">6</text>
<rect x="1187.60" y="8.30" width="306.20" height="306.20" fill="none" stroke="#000" stroke-width="1.7"/>
</g>
<g>
<defs><clipPath id="cp10"><rect x="471.70" y="417.60" width="307.40" height="306.20"/></clipPath></defs>
<g clip-path="url(#cp10)">
<line x1="471.70" y1="698.30" x2="779.10" y2="698.30" stroke="#666" stroke-width="1.3" stroke-dasharray="1.6,2.7"/>
<path d="M472.00,698.20 C485.00,698.20 535.67,698.27 550.00,698.20 C564.33,698.13 555.83,698.05 558.00,697.80 C560.17,697.55 561.58,697.30 563.00,696.70 C564.42,696.10 565.33,695.62 566.50,694.20 C567.67,692.78 568.83,691.20 570.00,688.20 C571.17,685.20 572.45,681.20 573.50,676.20 C574.55,671.20 575.48,664.20 576.30,658.20 C577.12,652.20 577.73,646.53 578.40,640.20 C579.07,633.87 579.70,626.53 580.30,620.20 C580.90,613.87 581.28,609.13 582.00,602.20 C582.72,595.27 583.72,587.50 584.60,578.60 C585.48,569.70 586.55,557.00 587.30,548.80 C588.05,540.60 588.43,535.85 589.10,529.40 C589.77,522.95 590.32,515.43 591.30,510.10 C592.28,504.77 593.88,499.52 595.00,497.40 C596.12,495.28 596.88,495.78 598.00,497.40 C599.12,499.02 600.58,503.25 601.70,507.10 C602.82,510.95 603.70,515.53 604.70,520.50 C605.70,525.47 606.58,529.70 607.70,536.90 C608.82,544.10 610.17,555.50 611.40,563.70 C612.63,571.90 613.95,579.18 615.10,586.10 C616.25,593.02 617.32,599.18 618.30,605.20 C619.28,611.22 619.78,616.37 621.00,622.20 C622.22,628.03 623.70,634.47 625.60,640.20 C627.50,645.93 629.67,651.13 632.40,656.60 C635.13,662.07 638.58,668.45 642.00,673.00 C645.42,677.55 649.27,681.07 652.90,683.90 C656.53,686.73 659.70,688.40 663.80,690.00 C667.90,691.60 672.95,692.58 677.50,693.50 C682.05,694.42 685.63,695.00 691.10,695.50 C696.57,696.00 702.15,696.20 710.30,696.50 C718.45,696.80 728.55,697.08 740.00,697.30 C751.45,697.52 772.50,697.72 779.00,697.80" fill="none" stroke="#385fda" stroke-width="2.75" stroke-linejoin="round"/>
<line x1="471.70" y1="698.30" x2="779.10" y2="698.30" stroke="#000" stroke-width="2.7"/>
</g>
<path d="M476.20,698.20 L485.00,689.40 L493.80,698.20 L485.00,707.00 Z" fill="none" stroke="#ff0000" stroke-width="1.75" stroke-linejoin="miter"/><circle cx="485.00" cy="698.20" r="1.15" fill="#ff0000"/>
<path d="M508.20,698.20 L517.00,689.40 L525.80,698.20 L517.00,707.00 Z" fill="none" stroke="#ff0000" stroke-width="1.75" stroke-linejoin="miter"/><circle cx="517.00" cy="698.20" r="1.15" fill="#ff0000"/>
<path d="M543.50,698.20 L552.30,689.40 L561.10,698.20 L552.30,707.00 Z" fill="none" stroke="#ff0000" stroke-width="1.75" stroke-linejoin="miter"/><circle cx="552.30" cy="698.20" r="1.15" fill="#ff0000"/>
<path d="M579.20,698.20 L588.00,689.40 L596.80,698.20 L588.00,707.00 Z" fill="none" stroke="#ff0000" stroke-width="1.75" stroke-linejoin="miter"/><circle cx="588.00" cy="698.20" r="1.15" fill="#ff0000"/>
<path d="M614.70,698.20 L623.50,689.40 L632.30,698.20 L623.50,707.00 Z" fill="none" stroke="#ff0000" stroke-width="1.75" stroke-linejoin="miter"/><circle cx="623.50" cy="698.20" r="1.15" fill="#ff0000"/>
<path d="M650.20,698.20 L659.00,689.40 L667.80,698.20 L659.00,707.00 Z" fill="none" stroke="#ff0000" stroke-width="1.75" stroke-linejoin="miter"/><circle cx="659.00" cy="698.20" r="1.15" fill="#ff0000"/>
<path d="M685.70,698.20 L694.50,689.40 L703.30,698.20 L694.50,707.00 Z" fill="none" stroke="#ff0000" stroke-width="1.75" stroke-linejoin="miter"/><circle cx="694.50" cy="698.20" r="1.15" fill="#ff0000"/>
<path d="M721.20,698.20 L730.00,689.40 L738.80,698.20 L730.00,707.00 Z" fill="none" stroke="#ff0000" stroke-width="1.75" stroke-linejoin="miter"/><circle cx="730.00" cy="698.20" r="1.15" fill="#ff0000"/>
<path d="M756.60,698.20 L765.40,689.40 L774.20,698.20 L765.40,707.00 Z" fill="none" stroke="#ff0000" stroke-width="1.75" stroke-linejoin="miter"/><circle cx="765.40" cy="698.20" r="1.15" fill="#ff0000"/>
<line x1="504.06" y1="723.80" x2="504.06" y2="714.30" stroke="#000" stroke-width="1.3"/>
<line x1="504.06" y1="417.60" x2="504.06" y2="427.10" stroke="#000" stroke-width="1.3"/>
<text x="501.56" y="754.80" text-anchor="middle" style="font-family:'Liberation Sans',sans-serif;font-size:27.5px;letter-spacing:1px">0.25</text>
<line x1="584.95" y1="723.80" x2="584.95" y2="714.30" stroke="#000" stroke-width="1.3"/>
<line x1="584.95" y1="417.60" x2="584.95" y2="427.10" stroke="#000" stroke-width="1.3"/>
<text x="582.45" y="754.80" text-anchor="middle" style="font-family:'Liberation Sans',sans-serif;font-size:27.5px;letter-spacing:1px">0.50</text>
<line x1="665.85" y1="723.80" x2="665.85" y2="714.30" stroke="#000" stroke-width="1.3"/>
<line x1="665.85" y1="417.60" x2="665.85" y2="427.10" stroke="#000" stroke-width="1.3"/>
<text x="664.35" y="754.80" text-anchor="middle" style="font-family:'Liberation Sans',sans-serif;font-size:27.5px;letter-spacing:1px">0.75</text>
<line x1="746.74" y1="723.80" x2="746.74" y2="714.30" stroke="#000" stroke-width="1.3"/>
<line x1="746.74" y1="417.60" x2="746.74" y2="427.10" stroke="#000" stroke-width="1.3"/>
<text x="746.24" y="754.80" text-anchor="middle" style="font-family:'Liberation Sans',sans-serif;font-size:27.5px;letter-spacing:1px">1.00</text>
<line x1="471.70" y1="698.30" x2="481.20" y2="698.30" stroke="#000" stroke-width="1.3"/>
<line x1="779.10" y1="698.30" x2="769.60" y2="698.30" stroke="#000" stroke-width="1.3"/>
<text x="452.60" y="708.50" text-anchor="end" style="font-family:'Liberation Sans',sans-serif;font-size:28px">0</text>
<line x1="471.70" y1="613.24" x2="481.20" y2="613.24" stroke="#000" stroke-width="1.3"/>
<line x1="779.10" y1="613.24" x2="769.60" y2="613.24" stroke="#000" stroke-width="1.3"/>
<text x="452.60" y="623.44" text-anchor="end" style="font-family:'Liberation Sans',sans-serif;font-size:28px">2</text>
<line x1="471.70" y1="528.18" x2="481.20" y2="528.18" stroke="#000" stroke-width="1.3"/>
<line x1="779.10" y1="528.18" x2="769.60" y2="528.18" stroke="#000" stroke-width="1.3"/>
<text x="452.60" y="538.38" text-anchor="end" style="font-family:'Liberation Sans',sans-serif;font-size:28px">4</text>
<line x1="471.70" y1="443.12" x2="481.20" y2="443.12" stroke="#000" stroke-width="1.3"/>
<line x1="779.10" y1="443.12" x2="769.60" y2="443.12" stroke="#000" stroke-width="1.3"/>
<text x="452.60" y="453.32" text-anchor="end" style="font-family:'Liberation Sans',sans-serif;font-size:28px">6</text>
<rect x="471.70" y="417.60" width="307.40" height="306.20" fill="none" stroke="#000" stroke-width="1.7"/>
</g>
<g>
<defs><clipPath id="cp11"><rect x="829.60" y="417.60" width="306.20" height="306.20"/></clipPath></defs>
<g clip-path="url(#cp11)">
<line x1="829.60" y1="698.30" x2="1135.80" y2="698.30" stroke="#666" stroke-width="1.3" stroke-dasharray="1.6,2.7"/>
<path d="M830.00,698.20 C844.17,698.17 899.60,698.63 915.00,698.00 C930.40,697.37 920.65,695.82 922.40,694.40 C924.15,692.98 924.52,691.48 925.50,689.50 C926.48,687.52 927.47,685.58 928.30,682.50 C929.13,679.42 929.87,675.23 930.50,671.00 C931.13,666.77 931.35,663.15 932.10,657.10 C932.85,651.05 934.02,642.15 935.00,634.70 C935.98,627.25 937.08,619.52 938.00,612.40 C938.92,605.28 939.58,599.17 940.50,592.00 C941.42,584.83 942.50,578.13 943.50,569.40 C944.50,560.67 945.50,549.03 946.50,539.60 C947.50,530.17 948.50,519.75 949.50,512.80 C950.50,505.85 951.75,500.88 952.50,497.90 C953.25,494.92 953.38,495.40 954.00,494.90 C954.62,494.40 955.08,492.92 956.20,494.90 C957.32,496.88 959.45,502.58 960.70,506.80 C961.95,511.02 962.65,514.67 963.70,520.20 C964.75,525.73 965.97,533.38 967.00,540.00 C968.03,546.62 968.92,553.27 969.90,559.90 C970.88,566.53 971.83,573.18 972.90,579.80 C973.97,586.42 975.13,592.98 976.30,599.60 C977.47,606.22 978.47,612.87 979.90,619.50 C981.33,626.13 982.92,632.77 984.90,639.40 C986.88,646.03 989.32,653.67 991.80,659.30 C994.28,664.93 996.82,669.23 999.80,673.20 C1002.78,677.17 1006.40,680.62 1009.70,683.10 C1013.00,685.58 1016.52,686.83 1019.60,688.10 C1022.68,689.37 1023.28,689.65 1028.20,690.70 C1033.12,691.75 1043.80,693.58 1049.10,694.40 C1054.40,695.22 1053.18,695.20 1060.00,695.60 C1066.82,696.00 1077.33,696.50 1090.00,696.80 C1102.67,697.10 1128.33,697.30 1136.00,697.40" fill="none" stroke="#385fda" stroke-width="2.75" stroke-linejoin="round"/>
<path d="M830.00,698.20 C844.17,698.17 899.60,698.13 915.00,698.00 C930.40,697.87 920.57,697.68 922.40,697.40 C924.23,697.12 924.77,696.80 926.00,696.30 C927.23,695.80 928.55,695.37 929.80,694.40 C931.05,693.43 932.25,692.00 933.50,690.50 C934.75,689.00 936.05,687.40 937.30,685.40 C938.55,683.40 939.77,680.85 941.00,678.50 C942.23,676.15 943.58,673.08 944.70,671.30 C945.82,669.52 946.70,668.68 947.70,667.80 C948.70,666.92 949.82,666.38 950.70,666.00 C951.58,665.62 952.25,665.50 953.00,665.50 C953.75,665.50 954.10,665.42 955.20,666.00 C956.30,666.58 957.87,667.25 959.60,669.00 C961.33,670.75 963.35,674.02 965.60,676.50 C967.85,678.98 970.37,681.53 973.10,683.90 C975.83,686.27 978.77,688.95 982.00,690.70 C985.23,692.45 988.27,693.48 992.50,694.40 C996.73,695.32 1000.45,695.75 1007.40,696.20 C1014.35,696.65 1025.43,696.90 1034.20,697.10 C1042.97,697.30 1043.03,697.28 1060.00,697.40 C1076.97,697.52 1123.33,697.73 1136.00,697.80" fill="none" stroke="#000" stroke-width="2.7" stroke-linejoin="round"/>
</g>
<path d="M831.20,698.20 L840.00,689.40 L848.80,698.20 L840.00,707.00 Z" fill="none" stroke="#ff0000" stroke-width="1.75" stroke-linejoin="miter"/><circle cx="840.00" cy="698.20" r="1.15" fill="#ff0000"/>
<path d="M862.90,698.20 L871.70,689.40 L880.50,698.20 L871.70,707.00 Z" fill="none" stroke="#ff0000" stroke-width="1.75" stroke-linejoin="miter"/><circle cx="871.70" cy="698.20" r="1.15" fill="#ff0000"/>
<path d="M896.20,697.80 L905.00,689.00 L913.80,697.80 L905.00,706.60 Z" fill="none" stroke="#ff0000" stroke-width="1.75" stroke-linejoin="miter"/><circle cx="905.00" cy="697.80" r="1.15" fill="#ff0000"/>
<path d="M928.20,691.80 L937.00,683.00 L945.80,691.80 L937.00,700.60 Z" fill="none" stroke="#ff0000" stroke-width="1.75" stroke-linejoin="miter"/><circle cx="937.00" cy="691.80" r="1.15" fill="#ff0000"/>
<path d="M947.10,668.30 L955.90,659.50 L964.70,668.30 L955.90,677.10 Z" fill="none" stroke="#ff0000" stroke-width="1.75" stroke-linejoin="miter"/><circle cx="955.90" cy="668.30" r="1.15" fill="#ff0000"/>
<path d="M969.90,688.00 L978.70,679.20 L987.50,688.00 L978.70,696.80 Z" fill="none" stroke="#ff0000" stroke-width="1.75" stroke-linejoin="miter"/><circle cx="978.70" cy="688.00" r="1.15" fill="#ff0000"/>
<path d="M1005.30,695.10 L1014.10,686.30 L1022.90,695.10 L1014.10,703.90 Z" fill="none" stroke="#ff0000" stroke-width="1.75" stroke-linejoin="miter"/><circle cx="1014.10" cy="695.10" r="1.15" fill="#ff0000"/>
<path d="M1044.10,697.20 L1052.90,688.40 L1061.70,697.20 L1052.90,706.00 Z" fill="none" stroke="#ff0000" stroke-width="1.75" stroke-linejoin="miter"/><circle cx="1052.90" cy="697.20" r="1.15" fill="#ff0000"/>
<path d="M1082.90,697.70 L1091.70,688.90 L1100.50,697.70 L1091.70,706.50 Z" fill="none" stroke="#ff0000" stroke-width="1.75" stroke-linejoin="miter"/><circle cx="1091.70" cy="697.70" r="1.15" fill="#ff0000"/>
<path d="M1118.50,695.20 L1127.30,686.40 L1136.10,695.20 L1127.30,704.00 Z" fill="none" stroke="#ff0000" stroke-width="1.75" stroke-linejoin="miter"/><circle cx="1127.30" cy="695.20" r="1.15" fill="#ff0000"/>
<line x1="861.83" y1="723.80" x2="861.83" y2="714.30" stroke="#000" stroke-width="1.3"/>
<line x1="861.83" y1="417.60" x2="861.83" y2="427.10" stroke="#000" stroke-width="1.3"/>
<text x="862.13" y="754.80" text-anchor="middle" style="font-family:'Liberation Sans',sans-serif;font-size:27.5px;letter-spacing:1px">0.25</text>
<line x1="942.41" y1="723.80" x2="942.41" y2="714.30" stroke="#000" stroke-width="1.3"/>
<line x1="942.41" y1="417.60" x2="942.41" y2="427.10" stroke="#000" stroke-width="1.3"/>
<text x="942.71" y="754.80" text-anchor="middle" style="font-family:'Liberation Sans',sans-serif;font-size:27.5px;letter-spacing:1px">0.50</text>
<line x1="1022.99" y1="723.80" x2="1022.99" y2="714.30" stroke="#000" stroke-width="1.3"/>
<line x1="1022.99" y1="417.60" x2="1022.99" y2="427.10" stroke="#000" stroke-width="1.3"/>
<text x="1023.29" y="754.80" text-anchor="middle" style="font-family:'Liberation Sans',sans-serif;font-size:27.5px;letter-spacing:1px">0.75</text>
<line x1="1103.57" y1="723.80" x2="1103.57" y2="714.30" stroke="#000" stroke-width="1.3"/>
<line x1="1103.57" y1="417.60" x2="1103.57" y2="427.10" stroke="#000" stroke-width="1.3"/>
<text x="1103.87" y="754.80" text-anchor="middle" style="font-family:'Liberation Sans',sans-serif;font-size:27.5px;letter-spacing:1px">1.00</text>
<line x1="829.60" y1="698.30" x2="839.10" y2="698.30" stroke="#000" stroke-width="1.3"/>
<line x1="1135.80" y1="698.30" x2="1126.30" y2="698.30" stroke="#000" stroke-width="1.3"/>
<text x="810.50" y="708.50" text-anchor="end" style="font-family:'Liberation Sans',sans-serif;font-size:28px">0</text>
<line x1="829.60" y1="613.24" x2="839.10" y2="613.24" stroke="#000" stroke-width="1.3"/>
<line x1="1135.80" y1="613.24" x2="1126.30" y2="613.24" stroke="#000" stroke-width="1.3"/>
<text x="810.50" y="623.44" text-anchor="end" style="font-family:'Liberation Sans',sans-serif;font-size:28px">2</text>
<line x1="829.60" y1="528.18" x2="839.10" y2="528.18" stroke="#000" stroke-width="1.3"/>
<line x1="1135.80" y1="528.18" x2="1126.30" y2="528.18" stroke="#000" stroke-width="1.3"/>
<text x="810.50" y="538.38" text-anchor="end" style="font-family:'Liberation Sans',sans-serif;font-size:28px">4</text>
<line x1="829.60" y1="443.12" x2="839.10" y2="443.12" stroke="#000" stroke-width="1.3"/>
<line x1="1135.80" y1="443.12" x2="1126.30" y2="443.12" stroke="#000" stroke-width="1.3"/>
<text x="810.50" y="453.32" text-anchor="end" style="font-family:'Liberation Sans',sans-serif;font-size:28px">6</text>
<rect x="829.60" y="417.60" width="306.20" height="306.20" fill="none" stroke="#000" stroke-width="1.7"/>
</g>
<g>
<defs><clipPath id="cp12"><rect x="1187.60" y="417.60" width="306.20" height="306.20"/></clipPath></defs>
<g clip-path="url(#cp12)">
<line x1="1187.60" y1="698.30" x2="1493.80" y2="698.30" stroke="#666" stroke-width="1.3" stroke-dasharray="1.6,2.7"/>
<path d="M1188.00,698.20 C1202.00,698.17 1256.77,698.27 1272.00,698.00 C1287.23,697.73 1277.65,697.35 1279.40,696.60 C1281.15,695.85 1281.50,694.87 1282.50,693.50 C1283.50,692.13 1284.57,690.48 1285.40,688.40 C1286.23,686.32 1286.88,683.73 1287.50,681.00 C1288.12,678.27 1288.33,677.23 1289.10,672.00 C1289.87,666.77 1291.12,658.30 1292.10,649.60 C1293.08,640.90 1294.05,628.40 1295.00,619.80 C1295.95,611.20 1296.87,606.40 1297.80,598.00 C1298.73,589.60 1299.65,579.13 1300.60,569.40 C1301.55,559.67 1302.52,549.53 1303.50,539.60 C1304.48,529.67 1305.38,517.37 1306.50,509.80 C1307.62,502.23 1309.08,497.05 1310.20,494.20 C1311.32,491.35 1311.95,491.33 1313.20,492.70 C1314.45,494.07 1316.33,498.07 1317.70,502.40 C1319.07,506.73 1320.17,512.50 1321.40,518.70 C1322.63,524.90 1323.73,531.15 1325.10,539.60 C1326.47,548.05 1328.10,559.47 1329.60,569.40 C1331.10,579.33 1333.02,592.03 1334.10,599.20 C1335.18,606.37 1334.90,606.48 1336.10,612.40 C1337.30,618.32 1339.07,627.50 1341.30,634.70 C1343.53,641.90 1346.65,649.38 1349.50,655.60 C1352.35,661.82 1354.93,667.28 1358.40,672.00 C1361.87,676.72 1365.57,680.78 1370.30,683.90 C1375.03,687.02 1380.33,688.95 1386.80,690.70 C1393.27,692.45 1403.57,693.58 1409.10,694.40 C1414.63,695.22 1413.18,695.23 1420.00,695.60 C1426.82,695.97 1437.83,696.47 1450.00,696.60 C1462.17,696.73 1485.83,696.43 1493.00,696.40" fill="none" stroke="#385fda" stroke-width="2.75" stroke-linejoin="round"/>
<path d="M1188.00,698.20 C1202.50,698.17 1259.52,698.18 1275.00,698.00 C1290.48,697.82 1279.40,697.52 1280.90,697.10 C1282.40,696.68 1283.02,696.20 1284.00,695.50 C1284.98,694.80 1285.80,694.07 1286.80,692.90 C1287.80,691.73 1289.00,690.23 1290.00,688.50 C1291.00,686.77 1291.88,684.92 1292.80,682.50 C1293.72,680.08 1294.63,676.98 1295.50,674.00 C1296.37,671.02 1297.20,667.77 1298.00,664.60 C1298.80,661.43 1299.55,657.98 1300.30,655.00 C1301.05,652.02 1301.83,649.03 1302.50,646.70 C1303.17,644.37 1303.68,642.50 1304.30,641.00 C1304.92,639.50 1305.58,638.62 1306.20,637.70 C1306.82,636.78 1307.37,636.00 1308.00,635.50 C1308.63,635.00 1309.33,634.70 1310.00,634.70 C1310.67,634.70 1311.27,635.00 1312.00,635.50 C1312.73,636.00 1313.60,636.70 1314.40,637.70 C1315.20,638.70 1315.93,640.00 1316.80,641.50 C1317.67,643.00 1318.13,643.85 1319.60,646.70 C1321.07,649.55 1323.35,654.13 1325.60,658.60 C1327.85,663.07 1330.37,669.28 1333.10,673.50 C1335.83,677.72 1338.77,681.03 1342.00,683.90 C1345.23,686.77 1348.77,688.95 1352.50,690.70 C1356.23,692.45 1359.93,693.48 1364.40,694.40 C1368.87,695.32 1373.08,695.75 1379.30,696.20 C1385.52,696.65 1394.92,696.90 1401.70,697.10 C1408.48,697.30 1404.78,697.28 1420.00,697.40 C1435.22,697.52 1480.83,697.73 1493.00,697.80" fill="none" stroke="#000" stroke-width="2.7" stroke-linejoin="round"/>
</g>
<path d="M1188.90,698.30 L1197.70,689.50 L1206.50,698.30 L1197.70,707.10 Z" fill="none" stroke="#ff0000" stroke-width="1.75" stroke-linejoin="miter"/><circle cx="1197.70" cy="698.30" r="1.15" fill="#ff0000"/>
<path d="M1220.90,698.30 L1229.70,689.50 L1238.50,698.30 L1229.70,707.10 Z" fill="none" stroke="#ff0000" stroke-width="1.75" stroke-linejoin="miter"/><circle cx="1229.70" cy="698.30" r="1.15" fill="#ff0000"/>
<path d="M1253.20,698.30 L1262.00,689.50 L1270.80,698.30 L1262.00,707.10 Z" fill="none" stroke="#ff0000" stroke-width="1.75" stroke-linejoin="miter"/><circle cx="1262.00" cy="698.30" r="1.15" fill="#ff0000"/>
<path d="M1285.50,685.80 L1294.30,677.00 L1303.10,685.80 L1294.30,694.60 Z" fill="none" stroke="#ff0000" stroke-width="1.75" stroke-linejoin="miter"/><circle cx="1294.30" cy="685.80" r="1.15" fill="#ff0000"/>
<path d="M1304.60,639.50 L1313.40,630.70 L1322.20,639.50 L1313.40,648.30 Z" fill="none" stroke="#ff0000" stroke-width="1.75" stroke-linejoin="miter"/><circle cx="1313.40" cy="639.50" r="1.15" fill="#ff0000"/>
<path d="M1327.30,678.30 L1336.10,669.50 L1344.90,678.30 L1336.10,687.10 Z" fill="none" stroke="#ff0000" stroke-width="1.75" stroke-linejoin="miter"/><circle cx="1336.10" cy="678.30" r="1.15" fill="#ff0000"/>
<path d="M1362.80,692.10 L1371.60,683.30 L1380.40,692.10 L1371.60,700.90 Z" fill="none" stroke="#ff0000" stroke-width="1.75" stroke-linejoin="miter"/><circle cx="1371.60" cy="692.10" r="1.15" fill="#ff0000"/>
<path d="M1401.60,696.70 L1410.40,687.90 L1419.20,696.70 L1410.40,705.50 Z" fill="none" stroke="#ff0000" stroke-width="1.75" stroke-linejoin="miter"/><circle cx="1410.40" cy="696.70" r="1.15" fill="#ff0000"/>
<path d="M1440.40,697.90 L1449.20,689.10 L1458.00,697.90 L1449.20,706.70 Z" fill="none" stroke="#ff0000" stroke-width="1.75" stroke-linejoin="miter"/><circle cx="1449.20" cy="697.90" r="1.15" fill="#ff0000"/>
<path d="M1475.70,692.70 L1484.50,683.90 L1493.30,692.70 L1484.50,701.50 Z" fill="none" stroke="#ff0000" stroke-width="1.75" stroke-linejoin="miter"/><circle cx="1484.50" cy="692.70" r="1.15" fill="#ff0000"/>
<line x1="1219.83" y1="723.80" x2="1219.83" y2="714.30" stroke="#000" stroke-width="1.3"/>
<line x1="1219.83" y1="417.60" x2="1219.83" y2="427.10" stroke="#000" stroke-width="1.3"/>
<text x="1220.13" y="754.80" text-anchor="middle" style="font-family:'Liberation Sans',sans-serif;font-size:27.5px;letter-spacing:1px">0.25</text>
<line x1="1300.41" y1="723.80" x2="1300.41" y2="714.30" stroke="#000" stroke-width="1.3"/>
<line x1="1300.41" y1="417.60" x2="1300.41" y2="427.10" stroke="#000" stroke-width="1.3"/>
<text x="1300.71" y="754.80" text-anchor="middle" style="font-family:'Liberation Sans',sans-serif;font-size:27.5px;letter-spacing:1px">0.50</text>
<line x1="1380.99" y1="723.80" x2="1380.99" y2="714.30" stroke="#000" stroke-width="1.3"/>
<line x1="1380.99" y1="417.60" x2="1380.99" y2="427.10" stroke="#000" stroke-width="1.3"/>
<text x="1381.29" y="754.80" text-anchor="middle" style="font-family:'Liberation Sans',sans-serif;font-size:27.5px;letter-spacing:1px">0.75</text>
<line x1="1461.57" y1="723.80" x2="1461.57" y2="714.30" stroke="#000" stroke-width="1.3"/>
<line x1="1461.57" y1="417.60" x2="1461.57" y2="427.10" stroke="#000" stroke-width="1.3"/>
<text x="1461.87" y="754.80" text-anchor="middle" style="font-family:'Liberation Sans',sans-serif;font-size:27.5px;letter-spacing:1px">1.00</text>
<line x1="1187.60" y1="698.30" x2="1197.10" y2="698.30" stroke="#000" stroke-width="1.3"/>
<line x1="1493.80" y1="698.30" x2="1484.30" y2="698.30" stroke="#000" stroke-width="1.3"/>
<text x="1168.50" y="708.50" text-anchor="end" style="font-family:'Liberation Sans',sans-serif;font-size:28px">0</text>
<line x1="1187.60" y1="613.24" x2="1197.10" y2="613.24" stroke="#000" stroke-width="1.3"/>
<line x1="1493.80" y1="613.24" x2="1484.30" y2="613.24" stroke="#000" stroke-width="1.3"/>
<text x="1168.50" y="623.44" text-anchor="end" style="font-family:'Liberation Sans',sans-serif;font-size:28px">2</text>
<line x1="1187.60" y1="528.18" x2="1197.10" y2="528.18" stroke="#000" stroke-width="1.3"/>
<line x1="1493.80" y1="528.18" x2="1484.30" y2="528.18" stroke="#000" stroke-width="1.3"/>
<text x="1168.50" y="538.38" text-anchor="end" style="font-family:'Liberation Sans',sans-serif;font-size:28px">4</text>
<line x1="1187.60" y1="443.12" x2="1197.10" y2="443.12" stroke="#000" stroke-width="1.3"/>
<line x1="1493.80" y1="443.12" x2="1484.30" y2="443.12" stroke="#000" stroke-width="1.3"/>
<text x="1168.50" y="453.32" text-anchor="end" style="font-family:'Liberation Sans',sans-serif;font-size:28px">6</text>
<rect x="1187.60" y="417.60" width="306.20" height="306.20" fill="none" stroke="#000" stroke-width="1.7"/>
</g>
<text x="490.30" y="58.90" style="font-family:'Liberation Sans',sans-serif;font-size:39px">&#916;<tspan font-style="italic">d</tspan> = 0</text>
<text x="846.60" y="58.90" style="font-family:'Liberation Sans',sans-serif;font-size:39px">&#916;<tspan font-style="italic">d</tspan> = 0.1 &#197;</text>
<text x="1204.70" y="58.90" style="font-family:'Liberation Sans',sans-serif;font-size:39px">&#916;<tspan font-style="italic">d</tspan> = 0.2 &#197;</text>
<text x="489.70" y="106.30" style="font-family:'Liberation Sans',sans-serif;font-size:39px">(D<tspan font-size="26px" dy="8.5">3h</tspan><tspan dy="-8.5">)</tspan></text>
<text x="847.80" y="106.30" style="font-family:'Liberation Sans',sans-serif;font-size:39px">(C<tspan font-size="26px" dy="8.5">2v</tspan><tspan dy="-8.5">)</tspan></text>
<text x="1204.20" y="106.30" style="font-family:'Liberation Sans',sans-serif;font-size:39px">(C<tspan font-size="26px" dy="8.5">2v</tspan><tspan dy="-8.5">)</tspan></text>
<text x="491.20" y="468.20" style="font-family:'Liberation Sans',sans-serif;font-size:39px"><tspan font-style="italic">E</tspan><tspan font-size="26px" dy="9">b</tspan><tspan dy="-9"> = 0</tspan></text>
<text x="849.10" y="468.20" style="font-family:'Liberation Sans',sans-serif;font-size:39px"><tspan font-style="italic">E</tspan><tspan font-size="26px" dy="9">b</tspan><tspan dy="-9"> = 0.06 V &#197;</tspan><tspan font-size="25px" dy="-10.8">-1</tspan></text>
<text x="1207.10" y="468.20" style="font-family:'Liberation Sans',sans-serif;font-size:39px"><tspan font-style="italic">E</tspan><tspan font-size="26px" dy="9">b</tspan><tspan dy="-9"> = 0.12 V &#197;</tspan><tspan font-size="25px" dy="-10.8">-1</tspan></text>
<text x="489.50" y="515.60" style="font-family:'Liberation Sans',sans-serif;font-size:39px">(D<tspan font-size="26px" dy="8.5">3h</tspan><tspan dy="-8.5">)</tspan></text>
<text x="848.80" y="515.60" style="font-family:'Liberation Sans',sans-serif;font-size:39px">(C<tspan font-size="26px" dy="8.5">2v</tspan><tspan dy="-8.5">)</tspan></text>
<text x="1205.50" y="515.60" style="font-family:'Liberation Sans',sans-serif;font-size:39px">(C<tspan font-size="26px" dy="8.5">2v</tspan><tspan dy="-8.5">)</tspan></text>
<text x="625.90" y="382.10" text-anchor="middle" style="font-family:'Liberation Sans',sans-serif;font-size:30px;letter-spacing:-0.15px"><tspan font-style="italic" letter-spacing="-1.1px">&#295;&#969;/&#949;</tspan><tspan font-size="19.5px" dy="7">gap</tspan><tspan dy="-7" letter-spacing="-3px"> </tspan><tspan>(</tspan><tspan font-style="italic">&#949;</tspan><tspan font-size="19.5px" dy="7">gap</tspan><tspan dy="-7">=4.75 eV)</tspan></text>
<text x="983.20" y="382.10" text-anchor="middle" style="font-family:'Liberation Sans',sans-serif;font-size:30px;letter-spacing:-0.15px"><tspan font-style="italic" letter-spacing="-1.1px">&#295;&#969;/&#949;</tspan><tspan font-size="19.5px" dy="7">gap</tspan><tspan dy="-7" letter-spacing="-3px"> </tspan><tspan>(</tspan><tspan font-style="italic">&#949;</tspan><tspan font-size="19.5px" dy="7">gap</tspan><tspan dy="-7">=4.71 eV)</tspan></text>
<text x="1341.20" y="382.10" text-anchor="middle" style="font-family:'Liberation Sans',sans-serif;font-size:30px;letter-spacing:-0.15px"><tspan font-style="italic" letter-spacing="-1.1px">&#295;&#969;/&#949;</tspan><tspan font-size="19.5px" dy="7">gap</tspan><tspan dy="-7" letter-spacing="-3px"> </tspan><tspan>(</tspan><tspan font-style="italic">&#949;</tspan><tspan font-size="19.5px" dy="7">gap</tspan><tspan dy="-7">=3.61 eV)</tspan></text>
<text x="625.90" y="791.40" text-anchor="middle" style="font-family:'Liberation Sans',sans-serif;font-size:30px;letter-spacing:-0.15px"><tspan font-style="italic" letter-spacing="-1.1px">&#295;&#969;/&#949;</tspan><tspan font-size="19.5px" dy="7">gap</tspan><tspan dy="-7" letter-spacing="-3px"> </tspan><tspan>(</tspan><tspan font-style="italic">&#949;</tspan><tspan font-size="19.5px" dy="7">gap</tspan><tspan dy="-7">=4.75 eV)</tspan></text>
<text x="983.20" y="791.40" text-anchor="middle" style="font-family:'Liberation Sans',sans-serif;font-size:30px;letter-spacing:-0.15px"><tspan font-style="italic" letter-spacing="-1.1px">&#295;&#969;/&#949;</tspan><tspan font-size="19.5px" dy="7">gap</tspan><tspan dy="-7" letter-spacing="-3px"> </tspan><tspan>(</tspan><tspan font-style="italic">&#949;</tspan><tspan font-size="19.5px" dy="7">gap</tspan><tspan dy="-7">=4.74 eV)</tspan></text>
<text x="1341.20" y="791.40" text-anchor="middle" style="font-family:'Liberation Sans',sans-serif;font-size:30px;letter-spacing:-0.15px"><tspan font-style="italic" letter-spacing="-1.1px">&#295;&#969;/&#949;</tspan><tspan font-size="19.5px" dy="7">gap</tspan><tspan dy="-7" letter-spacing="-3px"> </tspan><tspan>(</tspan><tspan font-style="italic">&#949;</tspan><tspan font-size="19.5px" dy="7">gap</tspan><tspan dy="-7">=4.73 eV)</tspan></text>
<g transform="translate(411.00,256.40) rotate(-90) scale(0.940)" fill="none" stroke="#000"><path d="M17.4,-13 L0.4,5.3" stroke-width="2.0"/><path d="M4.0,-9.4 C5.4,-12.6 7.4,-14.0 8.5,-11.2 C9.4,-8.4 9.0,-0.5 9.5,3.2 C10.0,6.6 12.6,5.8 14.0,2.2" stroke-width="1.6"/></g><text transform="translate(402.00,242.50) rotate(-90)" style="font-family:'Liberation Sans',sans-serif;font-size:20px">(2)</text><text transform="translate(411.00,216.50) rotate(-90)" style="font-family:'Liberation Sans',sans-serif;font-size:30px">(<tspan font-style="italic">&#969;</tspan>)</text><text transform="translate(411.00,158.20) rotate(-90)" style="font-family:'Liberation Sans',sans-serif;font-size:30px">(&#197;</text><text transform="translate(401.80,130.80) rotate(-90)" style="font-family:'Liberation Sans',sans-serif;font-size:19.5px">2</text><text transform="translate(411.00,111.80) rotate(-90)" style="font-family:'Liberation Sans',sans-serif;font-size:30px">V</text><text transform="translate(401.80,94.20) rotate(-90)" style="font-family:'Liberation Sans',sans-serif;font-size:19.5px">-1</text><text transform="translate(411.00,75.70) rotate(-90)" style="font-family:'Liberation Sans',sans-serif;font-size:30px">)</text>
<g transform="translate(411.00,665.70) rotate(-90) scale(0.940)" fill="none" stroke="#000"><path d="M17.4,-13 L0.4,5.3" stroke-width="2.0"/><path d="M4.0,-9.4 C5.4,-12.6 7.4,-14.0 8.5,-11.2 C9.4,-8.4 9.0,-0.5 9.5,3.2 C10.0,6.6 12.6,5.8 14.0,2.2" stroke-width="1.6"/></g><text transform="translate(402.00,651.80) rotate(-90)" style="font-family:'Liberation Sans',sans-serif;font-size:20px">(2)</text><text transform="translate(411.00,625.80) rotate(-90)" style="font-family:'Liberation Sans',sans-serif;font-size:30px">(<tspan font-style="italic">&#969;</tspan>)</text><text transform="translate(411.00,567.50) rotate(-90)" style="font-family:'Liberation Sans',sans-serif;font-size:30px">(&#197;</text><text transform="translate(401.80,540.10) rotate(-90)" style="font-family:'Liberation Sans',sans-serif;font-size:19.5px">2</text><text transform="translate(411.00,521.10) rotate(-90)" style="font-family:'Liberation Sans',sans-serif;font-size:30px">V</text><text transform="translate(401.80,503.50) rotate(-90)" style="font-family:'Liberation Sans',sans-serif;font-size:19.5px">-1</text><text transform="translate(411.00,485.00) rotate(-90)" style="font-family:'Liberation Sans',sans-serif;font-size:30px">)</text>
<text x="636" y="127.90" style="font-family:'Liberation Serif',serif;font-style:italic;font-size:29.5px">D</text><text x="656" y="135.40" style="font-family:'Liberation Serif',serif;font-style:italic;font-size:18px">vc</text><line x1="686.3" y1="102.50" x2="675.8" y2="135.30" stroke="#000" stroke-width="1.5"/><text x="688.5" y="127.90" style="font-family:'Liberation Serif',serif;font-style:italic;font-size:29.5px">&#969;</text><text x="709.3" y="115.20" style="font-family:'Liberation Serif',serif;font-size:17.5px">2</text>
<path d="M727.60,121.90 L736.80,112.70 L746.00,121.90 L736.80,131.10 Z" fill="none" stroke="#ff0000" stroke-width="1.40" stroke-linejoin="miter"/><circle cx="736.80" cy="121.90" r="1.15" fill="#ff0000"/>
<g transform="translate(638.00,170.20) scale(1.000)" fill="none" stroke="#000"><path d="M17.4,-13 L0.4,5.3" stroke-width="2.0"/><path d="M4.0,-9.4 C5.4,-12.6 7.4,-14.0 8.5,-11.2 C9.4,-8.4 9.0,-0.5 9.5,3.2 C10.0,6.6 12.6,5.8 14.0,2.2" stroke-width="1.6"/></g><text x="657.5" y="158.40" style="font-family:'Liberation Serif',serif;font-size:18px">(2)</text><text x="655.8" y="177.50" style="font-family:'Liberation Serif',serif;font-size:16.5px">2-band</text>
<line x1="715.6" y1="161.80" x2="757.4" y2="161.80" stroke="#000" stroke-width="3.2"/>
<g transform="translate(638.00,213.50) scale(1.000)" fill="none" stroke="#000"><path d="M17.4,-13 L0.4,5.3" stroke-width="2.0"/><path d="M4.0,-9.4 C5.4,-12.6 7.4,-14.0 8.5,-11.2 C9.4,-8.4 9.0,-0.5 9.5,3.2 C10.0,6.6 12.6,5.8 14.0,2.2" stroke-width="1.6"/></g><text x="657.5" y="201.70" style="font-family:'Liberation Serif',serif;font-size:18px">(2)</text><text x="655.8" y="220.80" style="font-family:'Liberation Serif',serif;font-size:16.5px">3-band</text>
<line x1="715.6" y1="205.30" x2="757.4" y2="205.30" stroke="#385fda" stroke-width="3.2"/>
<text x="636" y="537.70" style="font-family:'Liberation Serif',serif;font-style:italic;font-size:29.5px">D</text><text x="656" y="545.20" style="font-family:'Liberation Serif',serif;font-style:italic;font-size:18px">vc</text><text x="660" y="526.30" style="font-family:'Liberation Serif',serif;font-style:italic;font-size:18px">E</text><line x1="686.3" y1="512.30" x2="675.8" y2="545.10" stroke="#000" stroke-width="1.5"/><text x="688.5" y="537.70" style="font-family:'Liberation Serif',serif;font-style:italic;font-size:29.5px">&#969;</text><text x="709.3" y="525.00" style="font-family:'Liberation Serif',serif;font-size:17.5px">2</text>
<path d="M727.60,531.70 L736.80,522.50 L746.00,531.70 L736.80,540.90 Z" fill="none" stroke="#ff0000" stroke-width="1.40" stroke-linejoin="miter"/><circle cx="736.80" cy="531.70" r="1.15" fill="#ff0000"/>
<g transform="translate(638.00,580.00) scale(1.000)" fill="none" stroke="#000"><path d="M17.4,-13 L0.4,5.3" stroke-width="2.0"/><path d="M4.0,-9.4 C5.4,-12.6 7.4,-14.0 8.5,-11.2 C9.4,-8.4 9.0,-0.5 9.5,3.2 C10.0,6.6 12.6,5.8 14.0,2.2" stroke-width="1.6"/></g><text x="657.5" y="568.20" style="font-family:'Liberation Serif',serif;font-size:18px">(2)</text><text x="655.8" y="587.30" style="font-family:'Liberation Serif',serif;font-size:16.5px">2-band</text>
<line x1="715.6" y1="571.60" x2="757.4" y2="571.60" stroke="#000" stroke-width="3.2"/>
<g transform="translate(638.00,623.30) scale(1.000)" fill="none" stroke="#000"><path d="M17.4,-13 L0.4,5.3" stroke-width="2.0"/><path d="M4.0,-9.4 C5.4,-12.6 7.4,-14.0 8.5,-11.2 C9.4,-8.4 9.0,-0.5 9.5,3.2 C10.0,6.6 12.6,5.8 14.0,2.2" stroke-width="1.6"/></g><text x="657.5" y="611.50" style="font-family:'Liberation Serif',serif;font-size:18px">(2)</text><text x="655.8" y="630.60" style="font-family:'Liberation Serif',serif;font-size:16.5px">3-band</text>
<line x1="715.6" y1="615.10" x2="757.4" y2="615.10" stroke="#385fda" stroke-width="3.2"/>
<text x="-0.10" y="33.80" style="font-family:'Liberation Sans',sans-serif;font-weight:bold;font-size:41.5px">a</text>
<text x="390.90" y="33.60" style="font-family:'Liberation Sans',sans-serif;font-weight:bold;font-size:43.0px">b</text>
<text x="0.50" y="443.30" style="font-family:'Liberation Sans',sans-serif;font-weight:bold;font-size:43.0px">c</text>
<text x="388.60" y="443.10" style="font-family:'Liberation Sans',sans-serif;font-weight:bold;font-size:43.0px">d</text>
</svg>
</body></html>
